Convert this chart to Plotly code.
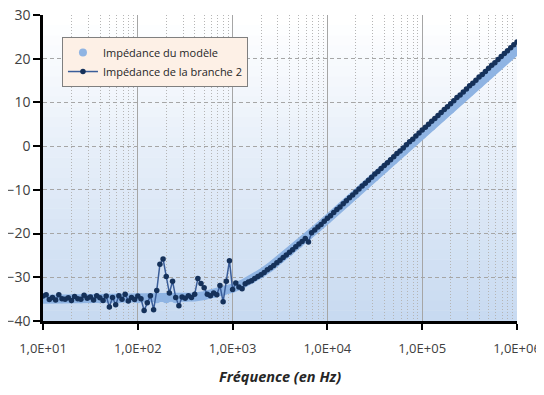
import plotly.graph_objects as go

# ---------------- data ----------------
freq_model = [10, 12.59, 15.85, 19.95, 25.12, 31.62, 39.81, 50.12, 63.10, 79.43,
              100, 125.9, 158.5, 199.5, 251.2, 316.2, 398.1, 501.2, 631.0, 794.3,
              1000, 1259, 1585, 1995, 2512, 3162, 3981, 5012, 6310, 7943,
              10000, 12590, 15850, 19950, 25120, 31620, 39810, 50120, 63100, 79430,
              100000, 125900, 158500, 199500, 251200, 316200, 398100, 501200, 631000, 794300,
              1000000]
z_model = [-35.0, -35.0, -35.0, -35.0, -35.0, -35.0, -35.0, -35.0, -35.0, -35.0,
           -35.0, -35.0, -35.0, -35.0, -35.0, -34.7, -34.5, -34.2, -33.8, -33.3,
           -32.5, -31.6, -30.5, -29.1, -27.6, -25.9, -24.2, -22.4, -20.5, -18.6,
           -16.7, -14.8, -12.9, -11.0, -9.0, -7.1, -5.2, -3.2, -1.3, 0.7,
           2.6, 4.5, 6.5, 8.4, 10.4, 12.3, 14.2, 16.2, 18.1, 20.1,
           22.0]

freq_b2 = [10.0, 10.8, 11.66, 12.59, 13.59, 14.68, 15.85, 17.11, 18.48, 19.95,
           21.54, 23.26, 25.12, 27.12, 29.29, 31.62, 34.15, 36.87, 39.81, 42.99,
           46.42, 50.12, 54.12, 58.43, 63.10, 68.13, 73.56, 79.43, 85.77, 92.61,
           100.0, 108.0, 116.6, 125.9, 135.9, 146.8, 158.5, 171.1, 184.8, 199.5,
           215.4, 232.6, 251.2, 271.2, 292.9, 316.2, 341.5, 368.7, 398.1, 429.9,
           464.2, 501.2, 541.2, 584.3, 631.0, 681.3, 735.6, 794.3, 857.7, 926.1,
           1000, 1080, 1166, 1259, 1359, 1468, 1585, 1711, 1848, 1995,
           2154, 2326, 2512, 2712, 2929, 3162, 3415, 3687, 3981, 4299,
           4642, 5012, 5412, 5843, 6310, 6813, 7356, 7943, 8577, 9261,
           10000, 10800, 11660, 12590, 13590, 14680, 15850, 17110, 18480, 19950,
           21540, 23260, 25120, 27120, 29290, 31620, 34150, 36870, 39810, 42990,
           46420, 50120, 54120, 58430, 63100, 68130, 73560, 79430, 85770, 92610,
           100000, 108000, 116600, 125900, 135900, 146800, 158500, 171100, 184800, 199500,
           215400, 232600, 251200, 271200, 292900, 316200, 341500, 368700, 398100, 429900,
           464200, 501200, 541200, 584300, 631000, 681300, 735600, 794300, 857700, 926100,
           1000000]
z_b2 = [-34.3, -34.0, -35.1, -34.6, -35.2, -34.0, -34.9, -35.0, -34.7, -35.3,
        -34.4, -34.9, -35.0, -34.1, -34.8, -34.5, -35.2, -34.2, -34.7, -35.3,
        -34.3, -36.8, -34.6, -36.3, -34.2, -35.0, -33.9, -35.4, -34.6, -35.1,
        -34.3, -34.9, -37.6, -35.8, -34.2, -37.4, -33.0, -27.0, -25.8, -29.8,
        -33.6, -30.9, -34.6, -36.5, -34.5, -34.8, -34.2, -34.6, -33.9, -30.3,
        -31.4, -32.4, -33.9, -34.2, -33.6, -34.0, -31.9, -35.6, -30.9, -26.2,
        -32.8, -31.3, -32.2, -32.6, -31.5, -31.1, -30.8, -30.3, -29.8, -29.4,
        -28.9, -28.3, -27.8, -27.3, -26.7, -26.1, -25.5, -24.9, -24.3, -23.7,
        -23.0, -22.4, -21.8, -21.1, -21.9, -19.8, -19.2, -18.5, -17.9, -17.2,
        -16.5, -15.9, -15.2, -14.5, -13.9, -13.2, -12.5, -11.8, -11.2, -10.5,
        -9.8, -9.1, -8.5, -7.8, -7.1, -6.4, -5.8, -5.1, -4.4, -3.8,
        -3.1, -2.4, -1.7, -1.1, -0.4, 0.3, 1.0, 1.6, 2.3, 3.0,
        3.7, 4.3, 5.0, 5.7, 6.3, 7.0, 7.7, 8.4, 9.0, 9.7,
        10.4, 11.1, 11.7, 12.4, 13.1, 13.8, 14.4, 15.1, 15.8, 16.4,
        17.1, 17.8, 18.5, 19.1, 19.8, 20.5, 21.2, 21.8, 22.5, 23.2,
        23.8]

x_tickvals = [1e1, 1e2, 1e3, 1e4, 1e5, 1e6]
x_ticktext = ["1,0E+01", "1,0E+02", "1,0E+03", "1,0E+04", "1,0E+05", "1,0E+06"]
y_tickvals = [-40, -30, -20, -10, 0, 10, 20, 30]

name_model = "Impédance du modèle"
name_b2 = "Impédance de la branche 2"
x_title = "<b><i>Fréquence (en Hz)</i></b>"

# ---------------- figure ----------------
MODEL_COLOR = "#8fb4e3"
fig = go.Figure()

fig.add_trace(go.Scatter(x=freq_model, y=z_model, mode="lines",
                         line=dict(color=MODEL_COLOR, width=9),
                         showlegend=False, hoverinfo="skip"))
fig.add_trace(go.Scatter(x=freq_model, y=z_model, mode="markers",
                         marker=dict(color=MODEL_COLOR, size=8),
                         name=name_model))
fig.add_trace(go.Scatter(x=freq_b2, y=z_b2, mode="lines+markers",
                         line=dict(color="#3a5d99", width=1.5),
                         marker=dict(color="#15315a", size=5.5),
                         name=name_b2))

# gradient background (white top -> light blue bottom)
n = 30
top = (255, 255, 255)
bot = (200, 218, 241)
shapes = []
for i in range(n):
    t = i / (n - 1)
    c = tuple(int(round(bot[k] + (top[k] - bot[k]) * t)) for k in range(3))
    shapes.append(dict(type="rect", xref="x domain", yref="y domain",
                       x0=0, x1=1, y0=i / n, y1=(i + 1) / n + 0.002,
                       fillcolor="rgb(%d,%d,%d)" % c, line=dict(width=0),
                       layer="below"))

fig.update_layout(
    width=536, height=379,
    margin=dict(l=35, r=27, t=7, b=66),
    paper_bgcolor="white", plot_bgcolor="white",
    shapes=shapes,
    font=dict(family="Open Sans", size=14, color="#404040"),
    showlegend=True,
    legend=dict(x=0.04, y=0.928, xanchor="left", yanchor="top",
                bgcolor="#fdf0e6", bordercolor="#7f7f7f", borderwidth=1,
                font=dict(family="Open Sans", size=11, color="#262626"),
                tracegroupgap=0, itemwidth=30),
)

fig.update_xaxes(
    type="log", range=[1, 6], automargin=False, ticklabeloverflow="allow",
    tickvals=x_tickvals, ticktext=x_ticktext,
    ticks="outside", ticklen=6, tickwidth=2, tickcolor="black",
    showline=True, linecolor="black", linewidth=2.5,
    showgrid=True, gridcolor="#a6a6a6", gridwidth=1,
    minor=dict(dtick="D1", showgrid=True, gridcolor="#b5b5b5",
               griddash="1px,2px", gridwidth=1, ticks=""),
    ticklabelstandoff=8,
    tickfont=dict(size=13, color="#404040"),
    title=dict(text=x_title, font=dict(size=14.5, color="#262626"), standoff=16),
    zeroline=False,
)
fig.update_yaxes(
    range=[-40, 30], tickvals=y_tickvals, automargin=False, ticklabeloverflow="allow",
    ticks="outside", ticklen=7, tickwidth=2, tickcolor="black",
    showline=True, linecolor="black", linewidth=2.5,
    showgrid=True, gridcolor="#a6a6a6", griddash="4px,3px", gridwidth=1,
    zeroline=False,
    tickfont=dict(size=14, color="#404040"),
)

fig.write_html("out.html")
